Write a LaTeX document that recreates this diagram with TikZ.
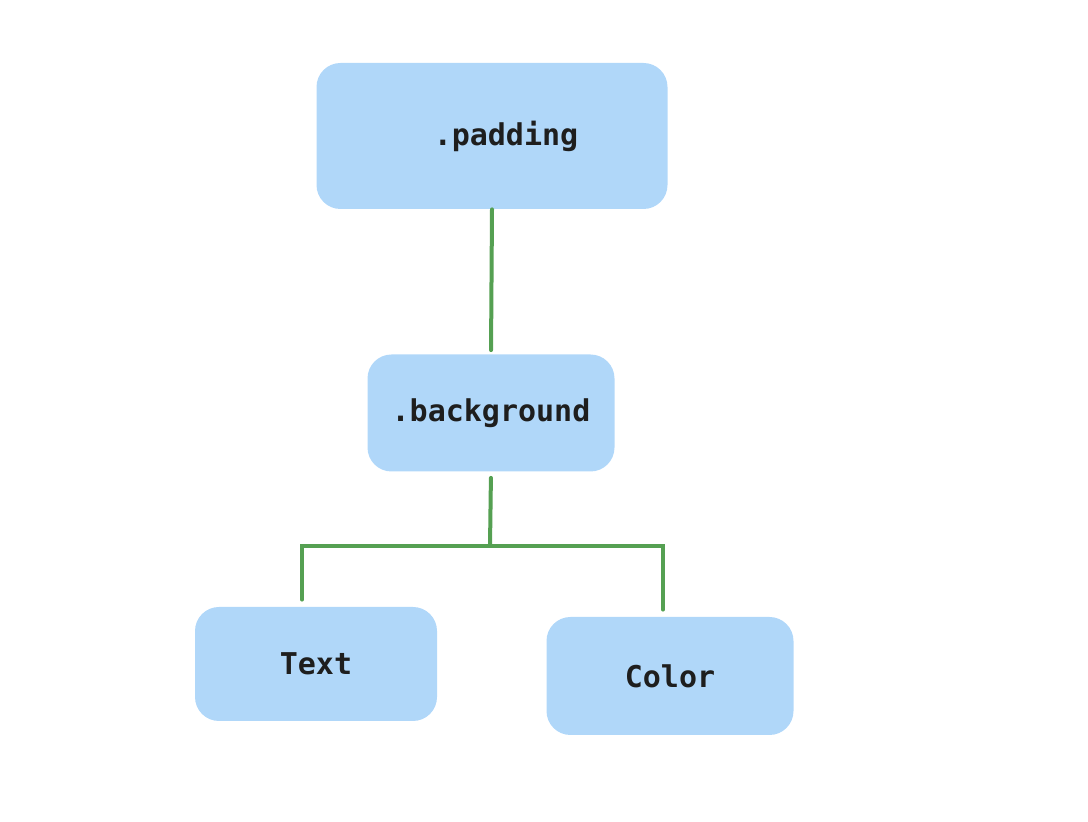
\documentclass[tikz,border=0pt]{standalone}
\usepackage{fontspec}
\setmonofont{DejaVu Sans Mono}
\definecolor{boxblue}{HTML}{B0D7F9}
\definecolor{linkgreen}{HTML}{55A052}
\definecolor{inkdark}{HTML}{1E1E1E}

\begin{document}
\begin{tikzpicture}[x=0.5pt,y=-0.5pt,
    box/.style={fill=boxblue,rounded corners=12pt,inner sep=0pt,text=inkdark,
      font=\ttfamily\bfseries\fontsize{15}{18}\selectfont},
    link/.style={line width=2pt,linkgreen,line cap=round}]
  \useasboundingbox (0,0) rectangle (1088,822);

  \node[box,minimum width=175.5pt,minimum height=73pt] (padding) at (492,136) {\hspace*{14pt}.padding};
  \node[box,minimum width=123.5pt,minimum height=58.5pt] (background) at (491,413) {.background};
  \node[box,minimum width=121pt,minimum height=57pt] (text) at (316,664) {Text};
  \node[box,minimum width=123.5pt,minimum height=59pt] (color) at (670,676) {Color};

  \coordinate (fork) at (490,546);
  \draw[link,shorten >=2pt] (padding.south) -- (background.north);
  \draw[link,shorten <=3pt] (background.south) -- (fork);
  \draw[link,shorten >=3.5pt] (fork) -| ([xshift=-7pt]text.north);
  \draw[link,shorten >=3.5pt] (fork) -| ([xshift=-3.5pt]color.north);
\end{tikzpicture}
\end{document}
